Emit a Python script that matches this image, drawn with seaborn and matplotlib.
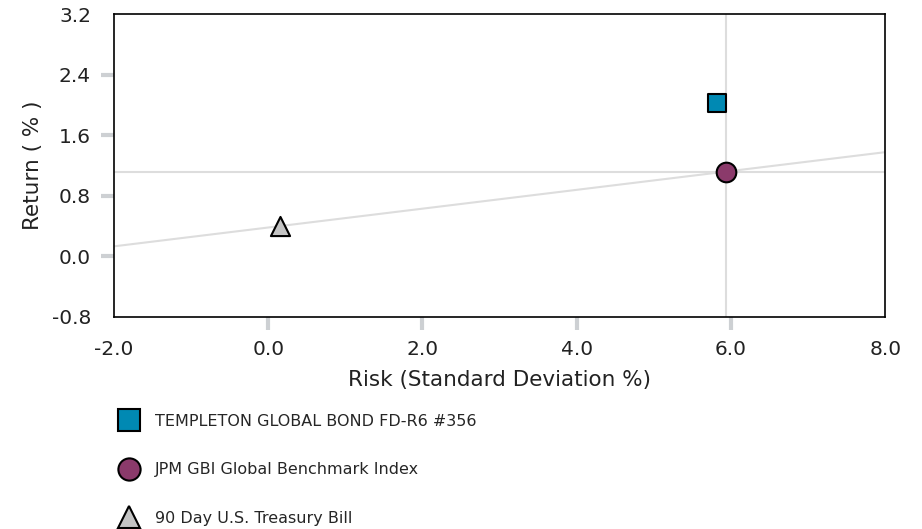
import matplotlib
matplotlib.use("Agg")
import matplotlib.pyplot as plt
import numpy as np
import pandas as pd
import seaborn as sns

# Datos
names = ["TEMPLETON GLOBAL BOND FD-R6 #356",
         "JPM GBI Global Benchmark Index",
         "90 Day U.S. Treasury Bill"]
risk = [5.82, 5.94, 0.15]
ret = [2.02, 1.12, 0.40]
markers = ["s", "o", "^"]
colors = ["#0089b3", "#8b3a6b", "#c4c4c4"]

x_ticks = [-2.0, 0.0, 2.0, 4.0, 6.0, 8.0]
y_ticks = [-0.8, 0.0, 0.8, 1.6, 2.4, 3.2]

df = pd.DataFrame({"name": names, "risk": risk, "ret": ret})

sns.set_style("white")
plt.rcParams["font.family"] = ["DejaVu Sans"]

fig = plt.figure(figsize=(9.22, 5.29), dpi=100)
ax = fig.add_axes([0.1236, 0.4008, 0.8366, 0.5727])

# líneas de referencia: cruz sobre el índice y línea de mercado
bench_x, bench_y = risk[1], ret[1]
rf_x, rf_y = risk[2], ret[2]
ax.axvline(bench_x, color="#dddddd", lw=1.5, zorder=1)
ax.axhline(bench_y, color="#dddddd", lw=1.5, zorder=1)
slope = (bench_y - rf_y) / (bench_x - rf_x)
xs = np.array([x_ticks[0], x_ticks[-1]])
ax.plot(xs, rf_y + slope * (xs - rf_x), color="#dddddd", lw=1.5, zorder=1)

sizes = [175, 200, 190]
handles = []
for i in range(len(names)):
    sub = df.iloc[[i]]
    sns.scatterplot(data=sub, x="risk", y="ret", marker=markers[i],
                    color=colors[i], edgecolor="black", linewidth=1.5,
                    s=sizes[i], ax=ax, zorder=3, legend=False)
    handles.append(plt.Line2D([], [], marker=markers[i], linestyle="",
                              markerfacecolor=colors[i], markeredgecolor="black",
                              markeredgewidth=1.5, markersize=16))

ax.set_xlim(x_ticks[0], x_ticks[-1])
ax.set_ylim(y_ticks[0], y_ticks[-1])
ax.set_xticks(x_ticks)
ax.set_yticks(y_ticks)
ax.set_xticklabels([f"{v:.1f}" for v in x_ticks], fontsize=14.5, color="#222222")
ax.set_yticklabels([f"{v:.1f}" for v in y_ticks], fontsize=14.5, color="#222222")
ax.tick_params(axis="both", bottom=True, left=True, length=9.5, width=3,
               color="#cdd0d3", pad=7)
# sin marcas en los extremos
for t in ax.xaxis.get_major_ticks()[::len(x_ticks) - 1]:
    t.tick1line.set_visible(False)
for t in ax.yaxis.get_major_ticks()[::len(y_ticks) - 1]:
    t.tick1line.set_visible(False)

ax.set_xlabel("Risk (Standard Deviation %)", fontsize=15.5, color="#222222", labelpad=8)
ax.set_ylabel("Return ( % )", fontsize=15.5, color="#222222", labelpad=6)

for sp in ax.spines.values():
    sp.set_color("black")
    sp.set_linewidth(1.2)

fig.legend(handles, names, loc="upper left", bbox_to_anchor=(0.129, 0.218),
           frameon=False, fontsize=11.5, labelspacing=2.1, handletextpad=1.05,
           handlelength=1.2, borderaxespad=0, borderpad=0)

plt.savefig("out.png", dpi=100)
